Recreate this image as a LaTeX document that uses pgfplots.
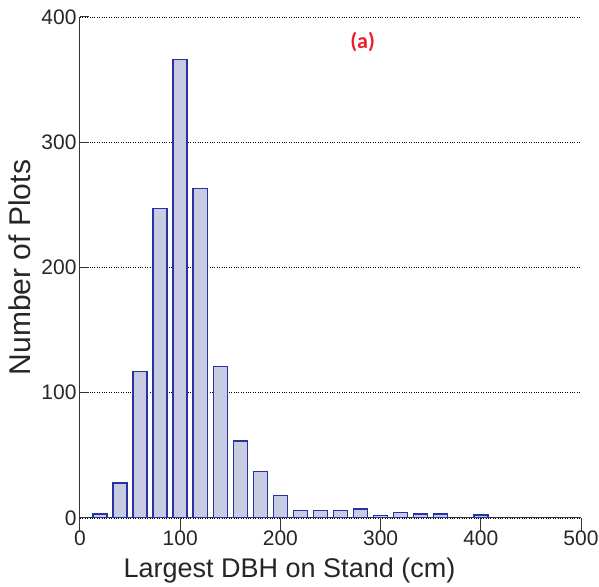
\documentclass[border=0pt]{standalone}
\usepackage{pgfplots}
\pgfplotsset{compat=1.18}
\usepackage{fontspec}
\setmainfont{Liberation Sans}
\newfontfamily\calib{Carlito}
\definecolor{barfill}{RGB}{200,204,226}
\definecolor{baredge}{RGB}{40,50,160}
\definecolor{lblred}{RGB}{235,30,40}
\begin{document}
\begin{tikzpicture}
\begin{axis}[
  scale only axis, width=501pt, height=501pt,
  xmin=0, xmax=500, ymin=0, ymax=400,
  axis lines*=left,
  axis line style={black!80, line width=1pt},
  xtick={0,100,...,500}, ytick={0,100,...,400},
  tick align=inside,
  major tick length=9pt,
  xtick style={black!80, line width=1pt, /pgfplots/major tick length=13pt},
  ytick style={black!80, line width=1pt},
  ymajorgrids, grid style={black, dotted, line width=0.8pt},
  /pgf/number format/assume math mode=true,
  ticklabel style={font=\fontsize{21}{24}\selectfont, text=black!85},
  xlabel={Largest DBH on Stand (cm)},
  ylabel={Number of Plots},
  xlabel style={font=\fontsize{27}{30}\selectfont, text=black!85, yshift=-6pt, xshift=-41pt},
  ylabel style={font=\fontsize{30}{33}\selectfont, text=black!85, yshift=4pt},
  ybar, bar width=14, bar shift=0pt,
]
\addplot[fill=barfill, draw=baredge, line width=1.5pt] coordinates {
(20,3) (40,28) (60,117) (80,247) (100,366) (120,263) (140,121) (160,61.5)
(180,37) (200,18) (220,6) (240,6) (260,6) (280,7) (300,2) (320,4.5)
(340,3) (360,3) (400,2.5)};
\node[font=\calib\bfseries\fontsize{22}{24}\selectfont, text=lblred] at (axis cs:282,380) {(a)};
\end{axis}
\pgfresetboundingbox
\useasboundingbox ([shift={(-80pt,-69pt)}]current axis.south west) rectangle ([shift={(18pt,17pt)}]current axis.north east);
\end{tikzpicture}
\end{document}
